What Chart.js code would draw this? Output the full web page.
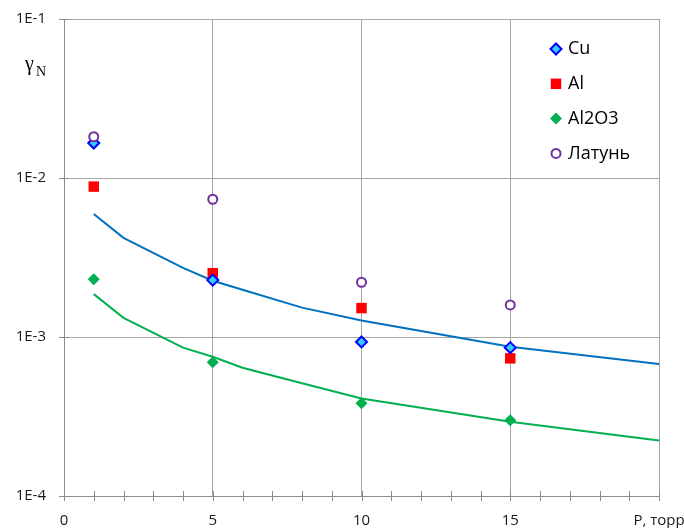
<!DOCTYPE html>
<html>
<head>
<meta charset="utf-8">
<script src="https://cdn.jsdelivr.net/npm/chart.js"></script>
<style>
  html, body { margin: 0; padding: 0; background: #fff; }
  #wrap { width: 684px; height: 528px; }
</style>
</head>
<body>
<div id="wrap"><canvas id="gammaChart" width="684" height="528"></canvas></div>
<script>
// measured points, P in torr
const pressure = [1, 5, 10, 15];
const cuValues = [0.0166, 0.00228, 0.000931, 0.000857];
const alValues = [0.00883, 0.00252, 0.00152, 0.000734];
const oxideValues = [0.00231, 0.000693, 0.000383, 0.000299];
const brassValues = [0.0182, 0.00735, 0.00221, 0.00159];

// calculated curves
const fitPressure = [1, 2, 4, 5, 6, 8, 10, 15, 20];
const cuFit = [0.00594, 0.0042, 0.00272, 0.00226, 0.00198, 0.00153, 0.00127, 0.000869, 0.000676];
const oxideFit = [0.00186, 0.00132, 0.000857, 0.000751, 0.000641, 0.000512, 0.000411, 0.000293, 0.000223];

const yTickValues = [1e-4, 1e-3, 1e-2, 1e-1];
const xLastLabel = 'P, торр';

const gridGray = '#a6a6a6';
const axisGray = '#8c8c8c';

Chart.defaults.font.family = "'Open Sans', sans-serif";
Chart.defaults.color = '#1a1a1a';

function toXY(xs, ys) {
  return xs.map((x, i) => ({ x: x, y: ys[i] }));
}

function markerSet(label, ys, style, radius, fill, stroke, bw, order) {
  return {
    label: label,
    data: toXY(pressure, ys),
    showLine: false,
    pointStyle: style,
    pointRadius: radius,
    pointBackgroundColor: fill,
    pointBorderColor: stroke,
    pointBorderWidth: bw,
    order: order
  };
}

function curveSet(ys, color) {
  return {
    label: '',
    data: toXY(fitPressure, ys),
    showLine: true,
    borderColor: color,
    borderWidth: 2,
    pointRadius: 0,
    tension: 0,
    order: 9
  };
}

const datasets = [
  markerSet('Cu', cuValues, 'rectRot', 5.5, '#33ccff', '#0000ff', 2, 2),
  markerSet('Al', alValues, 'rect', 7.4, '#ff0000', '#ff0000', 0, 3),
  markerSet('Al2O3', oxideValues, 'rectRot', 6, '#00b050', '#00b050', 0, 4),
  markerSet('Латунь', brassValues, 'circle', 4.5, '#ffffff', '#7030a0', 2, 1),
  curveSet(cuFit, '#0070c0'),
  curveSet(oxideFit, '#00b050')
];

function drawMarker(ctx, ds, x, y) {
  const r = ds.pointRadius;
  ctx.save();
  ctx.beginPath();
  if (ds.pointStyle === 'rectRot') {
    ctx.moveTo(x, y - r); ctx.lineTo(x + r, y); ctx.lineTo(x, y + r); ctx.lineTo(x - r, y);
    ctx.closePath();
  } else if (ds.pointStyle === 'rect') {
    const s = Math.SQRT1_2 * r;
    ctx.rect(x - s, y - s, 2 * s, 2 * s);
  } else {
    ctx.arc(x, y, r, 0, Math.PI * 2);
  }
  ctx.fillStyle = ds.pointBackgroundColor;
  ctx.fill();
  if (ds.pointBorderWidth > 0) {
    ctx.lineWidth = ds.pointBorderWidth;
    ctx.strokeStyle = ds.pointBorderColor;
    ctx.stroke();
  }
  ctx.restore();
}

// small ticks that cross the axis lines
const crossTicks = {
  id: 'crossTicks',
  beforeDatasetsDraw(chart) {
    const ctx = chart.ctx;
    const xs = chart.scales.x, ys = chart.scales.y;
    const area = chart.chartArea;
    ctx.save();
    ctx.strokeStyle = axisGray;
    ctx.lineWidth = 1;
    ctx.beginPath();
    xs.ticks.forEach(t => {
      const px = Math.round(xs.getPixelForValue(t.value)) + 0.5;
      ctx.moveTo(px, area.bottom - 5);
      ctx.lineTo(px, area.bottom + 5);
    });
    ys.ticks.forEach(t => {
      const py = Math.round(ys.getPixelForValue(t.value)) + 0.5;
      ctx.moveTo(area.left - 5, py);
      ctx.lineTo(area.left + 5, py);
    });
    ctx.stroke();
    ctx.restore();
  }
};

// legend inside the plot, top right, plus the axis symbol
const sideNotes = {
  id: 'sideNotes',
  afterDraw(chart) {
    const ctx = chart.ctx;
    const items = chart.data.datasets.filter(d => d.label);
    ctx.save();
    ctx.font = "18px 'Open Sans', sans-serif";
    ctx.fillStyle = '#000';
    ctx.textBaseline = 'middle';
    items.forEach((ds, i) => {
      const y = 49 + i * 34.8;
      drawMarker(ctx, ds, 556, y);
      ctx.fillText(ds.label, 568, y);
    });

    ctx.textBaseline = 'alphabetic';
    ctx.font = "20px 'Liberation Serif', serif";
    ctx.fillText('γ', 25, 70);
    ctx.font = "14px 'Liberation Serif', serif";
    ctx.fillText('N', 36, 76);
    ctx.restore();
  }
};

new Chart(document.getElementById('gammaChart'), {
  type: 'scatter',
  data: { datasets: datasets },
  options: {
    responsive: false,
    animation: false,
    events: [],
    layout: { padding: { top: 19, right: 25, left: 0, bottom: 0 } },
    plugins: {
      legend: { display: false },
      tooltip: { enabled: false }
    },
    scales: {
      x: {
        type: 'linear',
        min: 0,
        max: 20,
        afterFit(scale) { scale.height = 32; scale.paddingLeft = 0; scale.paddingRight = 0; },
        ticks: {
          stepSize: 1,
          autoSkip: false,
          maxRotation: 0,
          padding: 16,
          font: { size: 15 },
          color: '#1a1a1a',
          callback(value) {
            if (value % 5 !== 0) return '';
            return value === 20 ? xLastLabel : String(value);
          }
        },
        grid: {
          drawTicks: false,
          color: c => (c.tick && c.tick.value % 5 === 0) ? gridGray : 'rgba(0,0,0,0)',
          lineWidth: 1
        },
        border: { color: axisGray, width: 1 }
      },
      y: {
        type: 'logarithmic',
        min: 1e-4,
        max: 1e-1,
        afterFit(scale) { scale.width = 64; scale.paddingTop = 0; scale.paddingBottom = 0; },
        afterBuildTicks(scale) { scale.ticks = yTickValues.map(v => ({ value: v })); },
        ticks: {
          padding: 18,
          font: { size: 15 },
          color: '#1a1a1a',
          callback(value) { return '1E' + Math.round(Math.log10(value)); }
        },
        grid: { drawTicks: false, color: gridGray, lineWidth: 1 },
        border: { color: axisGray, width: 1 }
      }
    }
  },
  plugins: [crossTicks, sideNotes]
});
</script>
</body>
</html>
